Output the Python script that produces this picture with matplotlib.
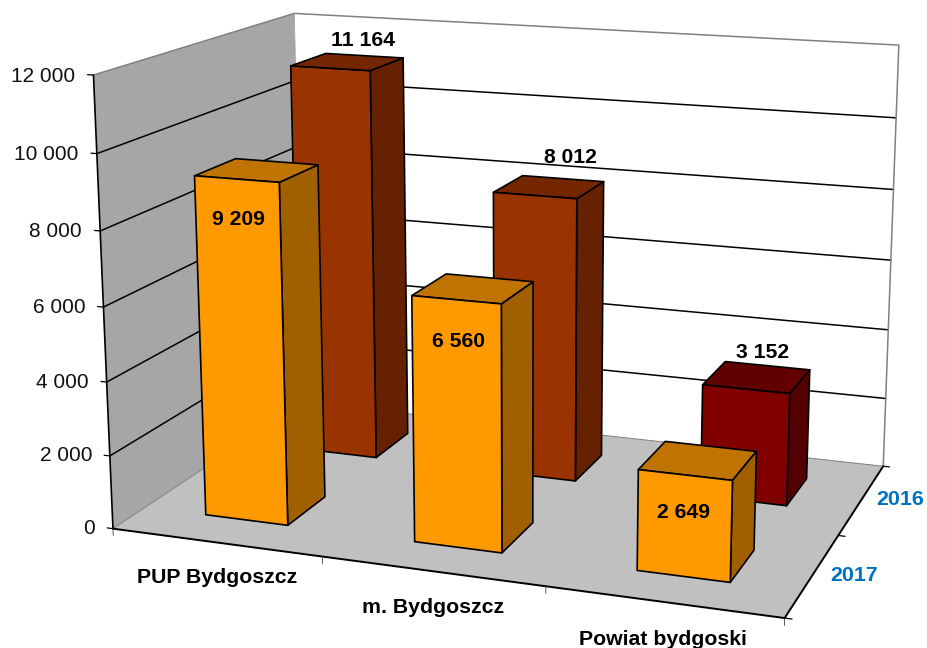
import numpy as np
import matplotlib
matplotlib.use("Agg")
import matplotlib.pyplot as plt
from mpl_toolkits.mplot3d import Axes3D  # noqa
from mpl_toolkits.mplot3d.art3d import Poly3DCollection

plt.rcParams['font.family'] = ['Liberation Sans', 'DejaVu Sans']

# ---- data ----
categories = ["PUP Bydgoszcz", "m. Bydgoszcz", "Powiat bydgoski"]
years = ["2017", "2016"]
values_2017 = [9209, 6560, 2649]
values_2016 = [11164, 8012, 3152]
z_ticks = [0, 2000, 4000, 6000, 8000, 10000, 12000]
z_labels = ["0", "2 000", "4 000", "6 000", "8 000", "10 000", "12 000"]
labels_2017 = ["9 209", "6 560", "2 649"]
labels_2016 = ["11 164", "8 012", "3 152"]

# ---- styles ----
# (front, top, side) colours per bar
colors_2017 = [("#FF9900", "#BF7300", "#A06000")] * 3
colors_2016 = [("#993300", "#732600", "#662200"),
               ("#993300", "#732600", "#662200"),
               ("#800000", "#600000", "#550000")]
gap = 0.3
depth_max = 2
x_max = 3
z_max = 12000
# label offsets from the centre of each bar's top (x, height)
offset_2017 = [(-0.095, -1370), (-0.07, -1450), (-0.06, -1420)]
offset_2016 = [(0.08, 625), (0.102, 870), (0.023, 700)]

# camera matrix: (x, y, z / z_max, 1) -> image pixels, fitted to the reference's box
CAMERA = np.array([
    [199.4149786835193, 121.47338861093714, -23.730836853957317, 112.96718252274829],
    [10.513957261817094, -28.269536805014685, -456.9968703305053, 528.6705913535134],
    [-0.03118814264065861, 0.08693974792883807, -0.04515710887641511, 1.0]])
FIG_W, FIG_H = 927, 648

fig = plt.figure(figsize=(FIG_W / 100, FIG_H / 100), dpi=100, facecolor="white")
ax = fig.add_axes([0, 0, 1, 1], projection="3d")
ax.apply_aspect = lambda position=None: None
ax.set_xticks([])
ax.set_yticks([])
ax.set_zticks([])
ax.set_axis_off()
ax.computed_zorder = False


def camera_proj():
    scale = np.diag([1, 1, 1 / z_max, 1.0])
    flip = np.array([[1, 0, 0], [0, -1, FIG_H], [0, 0, 1.0]])
    to_view = ax.transData.inverted().get_matrix()
    H = to_view @ flip @ CAMERA @ scale
    return np.vstack([H[0], H[1], [0, 0, 0, -1.0], H[2]])


ax.get_proj = camera_proj


def label(x, y, z, s, **kw):
    u, v, h = CAMERA @ np.array([x, y, z / z_max, 1.0])
    fig.text(u / h / FIG_W, 1 - v / h / FIG_H, s, va="center", **kw)


# ---- walls and floor ----
def panel(verts, color, z):
    poly = Poly3DCollection([verts], facecolors=color, edgecolors="none", zorder=z)
    poly.set_clip_on(False)
    ax.add_collection3d(poly)


panel([(0, 0, 0), (0, depth_max, 0), (0, depth_max, z_max), (0, 0, z_max)], "#A6A6A6", 1)
panel([(0, depth_max, 0), (x_max, depth_max, 0), (x_max, depth_max, z_max), (0, depth_max, z_max)], "white", 1)
panel([(0, 0, 0), (x_max, 0, 0), (x_max, depth_max, 0), (0, depth_max, 0)], "#C0C0C0", 1)


def line(xs, ys, zs, color="black", lw=1.1, z=3):
    ln, = ax.plot(xs, ys, zs, color=color, lw=lw, zorder=z, solid_capstyle="round")
    ln.set_clip_on(False)


# gridlines
for t in z_ticks[1:-1]:
    line([0, 0, x_max], [0, depth_max, depth_max], [t, t, t], z=2)
# wall and floor frame
line([0, 0, x_max, x_max], [0, depth_max, depth_max, depth_max], [z_max, z_max, z_max, 0], color="#808080", z=2)
line([0, 0], [depth_max, depth_max], [z_max, 0], color="#A0A0A0", lw=0.6, z=2)
line([0, 0, x_max], [0, depth_max, depth_max], [0, 0, 0], color="#808080", lw=0.7, z=2)
line([0, 0], [0, 0], [0, z_max], lw=1.2)
line([0, x_max, x_max], [0, 0, depth_max], [0, 0, 0], lw=1.4)

# ticks
for t in z_ticks:
    line([-0.028, 0], [0, 0], [t, t], lw=0.9)
for i in range(x_max + 1):
    line([i, i], [0, 0], [0, -190], lw=0.6, color="#404040")
for j in range(depth_max + 1):
    line([x_max, x_max + 0.03], [j, j], [0, 0], lw=0.9)

# ---- bars ----
NONE = (0, 0, 0, 0)
width = 1 - 2 * gap


def bar(i, j, v, cols, z):
    front, top, side = cols
    faces = [NONE, top, front, NONE, NONE, side]      # -z +z -y +y -x +x
    edges = [NONE, "black", "black", NONE, NONE, "black"]
    col = ax.bar3d(i + gap, j + gap, 0, width, width, v, color=faces,
                   edgecolor=edges, linewidth=1.2, shade=False, zorder=z)
    col.set_clip_on(False)


for i, (v, c) in enumerate(zip(values_2016, colors_2016)):
    bar(i, 1, v, c, 5 + i)
for i, (v, c) in enumerate(zip(values_2017, colors_2017)):
    bar(i, 0, v, c, 10 + i)

# ---- text ----
for i, (v, s, (dx, dz)) in enumerate(zip(values_2017, labels_2017, offset_2017)):
    label(i + 0.5 + dx, 0.5, v + dz, s, fontsize=15.2, fontweight="bold", ha="center")
for i, (v, s, (dx, dz)) in enumerate(zip(values_2016, labels_2016, offset_2016)):
    label(i + 0.5 + dx, 1.5, v + dz, s, fontsize=15.2, fontweight="bold", ha="center")
for t, s in zip(z_ticks, z_labels):
    label(-0.088, 0, t - 60, s, fontsize=15, ha="right", color="#111111")
for i, s in enumerate(categories):
    label(i + 0.5, 0, -975, s, fontsize=15.3, fontweight="bold", ha="center")
for j, s in enumerate(years):
    label(x_max + 0.174, j + 0.5, 110, s, fontsize=15.4, fontweight="bold", color="#0070C0", ha="center")

fig.savefig("out.png", dpi=100, facecolor="white")
